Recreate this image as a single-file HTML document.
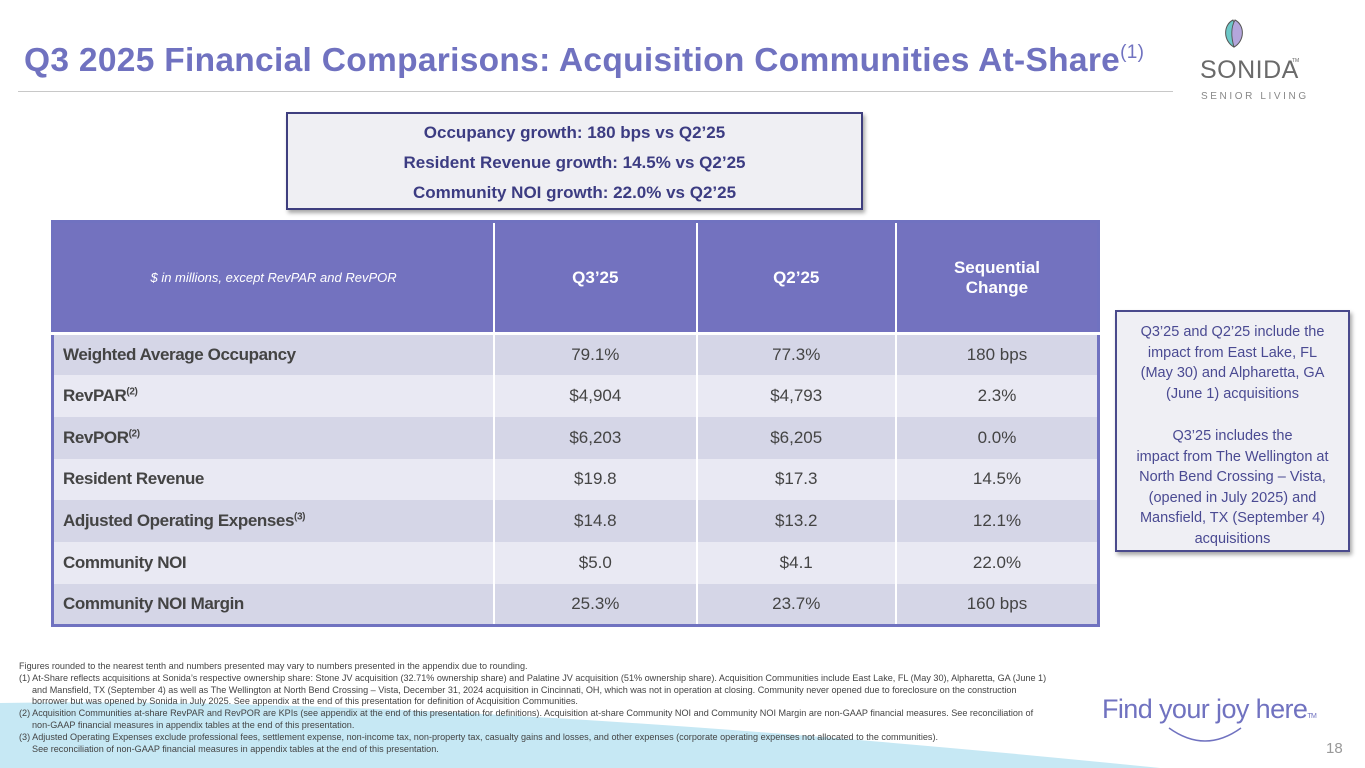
<!DOCTYPE html>
<html><head><meta charset="utf-8">
<style>
*{margin:0;padding:0;box-sizing:border-box}
body{width:1365px;height:768px;position:relative;overflow:hidden;background:#fff;font-family:"Liberation Sans",sans-serif}
.abs{position:absolute}
#title{left:24px;top:42px;font-size:33.5px;color:#7072c0;font-weight:bold;white-space:nowrap;letter-spacing:0.3px}
#title sup{font-size:19px;font-weight:normal;vertical-align:13px}
#rule{left:18px;top:91px;width:1155px;height:1px;background:#c8c8c8}
#callout{left:286px;top:112px;width:577px;height:98px;background:#efeff3;border:2px solid #3e3e7e;box-shadow:2px 3px 4px rgba(0,0,0,.35);text-align:center;color:#3c3c82;font-weight:bold;font-size:17px;line-height:30px;padding-top:4px}
table{position:absolute;left:51px;top:220px;width:1049px;border-collapse:collapse;border:3px solid #7072c0}
td{font-size:17px;color:#444;text-align:center;height:41.7px;border-left:2px solid #fff}
td:first-child{text-align:left;padding-left:9px;font-weight:bold;color:#444;letter-spacing:-0.4px;border-left:none}
tr.h td{background:#7372bf;color:#fff;height:112px;font-weight:bold;font-size:17px;border-bottom:3px solid #fff}
tr.h td:first-child{font-weight:normal;font-style:italic;font-size:13px;text-align:center;padding:0;letter-spacing:0}
tr.a td{background:#d5d6e7}
tr.b td{background:#e9e9f3}
td sup{font-size:10px}
#side{left:1115px;top:310px;width:235px;height:242px;background:#efeff4;border:2px solid #4a4a8c;box-shadow:2px 3px 4px rgba(0,0,0,.35);color:#4a4a92;font-size:14.5px;text-align:center;line-height:20.5px;padding-top:10px}
#notes{left:19px;top:661px;font-size:9.1px;color:#444;line-height:11.8px;width:1080px;white-space:nowrap}
#notes .i{padding-left:13px}
#tag{left:1102px;top:694px;font-size:27px;color:#7072c0;letter-spacing:-0.6px}
#pg{left:1326px;top:740px;font-size:15px;color:#999}
</style></head><body>
<svg class="abs" style="left:0;top:0" width="1365" height="768">
<path d="M0,703 Q450,696 1160,768 L0,768 Z" fill="#c6e8f4"/>
</svg>
<div id="title" class="abs">Q3 2025 Financial Comparisons: Acquisition Communities At-Share<sup>(1)</sup></div>
<div id="rule" class="abs"></div>
<svg class="abs" style="left:1195px;top:15px" width="170" height="90">
<path d="M38,5 C28,10 28,26 39,32 C42,22 42,12 38,5Z" fill="#6cc8c8" stroke="#555" stroke-width="1"/>
<path d="M40,5 C50,10 50,26 39,32 C36,22 36,12 40,5Z" fill="#b4a6dc" stroke="#555" stroke-width="1"/>
<text x="5" y="63" font-size="25" fill="#6a6a6a" font-family="Liberation Sans" letter-spacing="0.5">SONIDA</text>
<text x="97" y="47" font-size="5" fill="#666">TM</text>
<text x="6" y="84" font-size="10" fill="#888" letter-spacing="2.6">SENIOR LIVING</text>
</svg>
<div id="callout" class="abs">
<div>Occupancy growth: 180 bps vs Q2’25</div>
<div>Resident Revenue growth: 14.5% vs Q2’25</div>
<div>Community NOI growth: 22.0% vs Q2’25</div>
</div>
<table>
<colgroup><col style="width:443px"><col style="width:203px"><col style="width:200px"><col style="width:203px"></colgroup>
<tr class="h"><td>$ in millions, except RevPAR and RevPOR</td><td>Q3’25</td><td>Q2’25</td><td>Sequential<br>Change</td></tr>
<tr class="a"><td>Weighted Average Occupancy</td><td>79.1%</td><td>77.3%</td><td>180 bps</td></tr>
<tr class="b"><td>RevPAR<sup>(2)</sup></td><td>$4,904</td><td>$4,793</td><td>2.3%</td></tr>
<tr class="a"><td>RevPOR<sup>(2)</sup></td><td>$6,203</td><td>$6,205</td><td>0.0%</td></tr>
<tr class="b"><td>Resident Revenue</td><td>$19.8</td><td>$17.3</td><td>14.5%</td></tr>
<tr class="a"><td>Adjusted Operating Expenses<sup>(3)</sup></td><td>$14.8</td><td>$13.2</td><td>12.1%</td></tr>
<tr class="b"><td>Community NOI</td><td>$5.0</td><td>$4.1</td><td>22.0%</td></tr>
<tr class="a"><td>Community NOI Margin</td><td>25.3%</td><td>23.7%</td><td>160 bps</td></tr>
</table>
<div id="side" class="abs">
<div>Q3’25 and Q2’25 include the<br>impact from East Lake, FL<br>(May 30) and Alpharetta, GA<br>(June 1) acquisitions</div>
<div style="margin-top:22px">Q3’25 includes the<br>impact from The Wellington at<br>North Bend Crossing – Vista,<br>(opened in July 2025) and<br>Mansfield, TX (September 4)<br>acquisitions</div>
</div>
<div id="notes" class="abs">
<div>Figures rounded to the nearest tenth and numbers presented may vary to numbers presented in the appendix due to rounding.</div>
<div>(1) At-Share reflects acquisitions at Sonida’s respective ownership share: Stone JV acquisition (32.71% ownership share) and Palatine JV acquisition (51% ownership share). Acquisition Communities include East Lake, FL (May 30), Alpharetta, GA (June 1)</div>
<div class="i">and Mansfield, TX (September 4) as well as The Wellington at North Bend Crossing – Vista, December 31, 2024 acquisition in Cincinnati, OH, which was not in operation at closing. Community never opened due to foreclosure on the construction</div>
<div class="i">borrower but was opened by Sonida in July 2025. See appendix at the end of this presentation for definition of Acquisition Communities.</div>
<div>(2) Acquisition Communities at-share RevPAR and RevPOR are KPIs (see appendix at the end of this presentation for definitions). Acquisition at-share Community NOI and Community NOI Margin are non-GAAP financial measures. See reconciliation of</div>
<div class="i">non-GAAP financial measures in appendix tables at the end of this presentation.</div>
<div>(3) Adjusted Operating Expenses exclude professional fees, settlement expense, non-income tax, non-property tax, casualty gains and losses, and other expenses (corporate operating expenses not allocated to the communities).</div>
<div class="i">See reconciliation of non-GAAP financial measures in appendix tables at the end of this presentation.</div>
</div>
<div id="tag" class="abs">Find your joy here<span style="font-size:7px">TM</span></div>
<svg class="abs" style="left:1165px;top:724px" width="80" height="22"><path d="M4,4 Q40,30 76,4" fill="none" stroke="#7072c0" stroke-width="1.5"/></svg>
<div id="pg" class="abs">18</div>
</body></html>
